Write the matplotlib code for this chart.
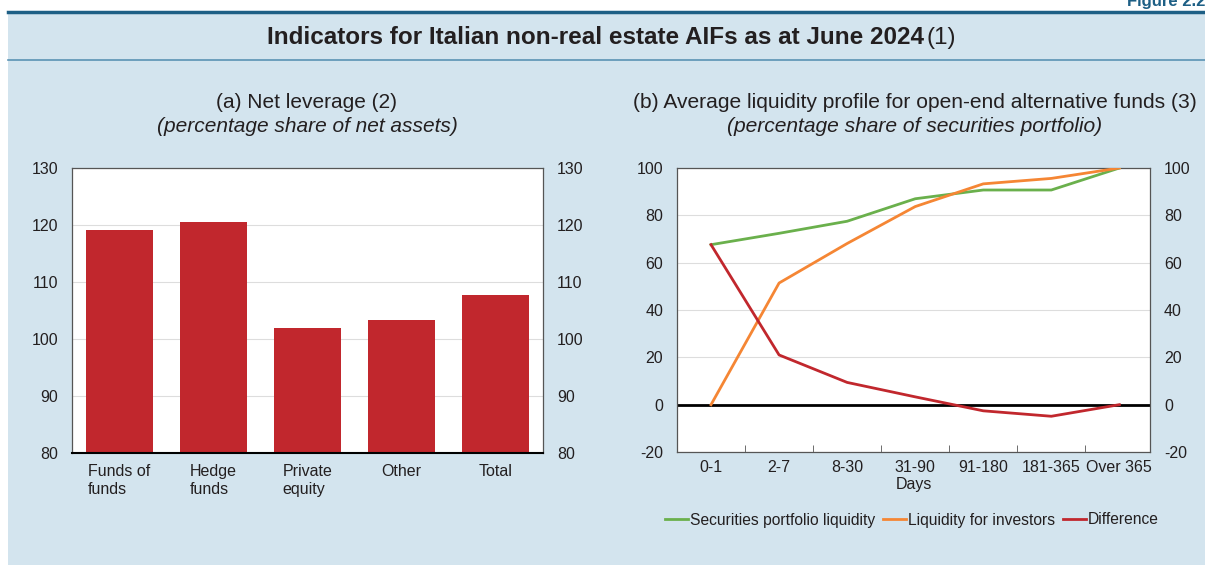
import matplotlib.pyplot as plt
from matplotlib.lines import Line2D

plt.rcParams['font.family'] = ['Liberation Sans', 'DejaVu Sans']
plt.rcParams['axes.unicode_minus'] = False

# (a) net leverage
fund_types = ['Funds of\nfunds', 'Hedge\nfunds', 'Private\nequity', 'Other', 'Total']
net_leverage = [119.1, 120.5, 101.9, 103.3, 107.7]

# (b) liquidity profile
buckets = ['0-1', '2-7', '8-30', '31-90', '91-180', '181-365', 'Over 365']
portfolio_liq = [67.6, 72.4, 77.5, 87.0, 90.7, 90.7, 100.0]
investor_liq = [0.0, 51.4, 68.1, 83.7, 93.3, 95.6, 100.0]
difference = [67.6, 21.0, 9.4, 3.3, -2.6, -4.9, 0.0]

panel = '#d3e4ee'
txt = '#231f20'
green = '#6ab04c'
orange = '#f58634'
red = '#c1272d'

fig = plt.figure(figsize=(12.05, 5.65), dpi=100)
fig.patch.set_facecolor('white')

# light blue panel with header rules
fig.patches.append(plt.Rectangle((8 / 1205, 0), 1, 1 - 12 / 565, transform=fig.transFigure,
                                 facecolor=panel, edgecolor='none', zorder=-10))
fig.add_artist(Line2D([8 / 1205, 1], [1 - 12 / 565] * 2, color='#1d5f85', lw=2.5))
fig.add_artist(Line2D([8 / 1205, 1], [1 - 60 / 565] * 2, color='#5a93b4', lw=1.2))
fig.text(1.0, 1 - 6 / 565, 'Figure 2.2', ha='right', va='baseline', fontsize=12,
         fontweight='bold', color='#1d5f85')

fig.text(924 / 1205, 1 - 38 / 565, 'Indicators for Italian non-real estate AIFs as at June 2024',
         ha='right', va='center', fontsize=17.5, fontweight='bold', color=txt)
fig.text(927 / 1205, 1 - 38 / 565, '(1)', ha='left', va='center', fontsize=17.5, color=txt)


def style_axes(ax):
    ax.set_facecolor('white')
    for s in ax.spines.values():
        s.set_color('#555555')
        s.set_linewidth(0.9)
    ax.tick_params(axis='y', length=0, pad=10, labelsize=11.5, colors=txt,
                   left=True, right=True, labelleft=True, labelright=True)
    ax.yaxis.grid(True, color='#dddddd', lw=0.8)
    ax.set_axisbelow(True)


# left: net leverage bars
ax1 = fig.add_axes([72 / 1205, 1 - 453 / 565, 471 / 1205, 285 / 565])
style_axes(ax1)
ax1.bar(range(len(fund_types)), net_leverage, width=0.71, color=red, zorder=2)
ax1.set_xlim(-0.5, 4.5)
ax1.set_ylim(80, 130)
ax1.set_yticks([80, 90, 100, 110, 120, 130])
ax1.set_xticks(range(len(fund_types)))
ax1.set_xticklabels(fund_types, multialignment='left', fontsize=11.5, color=txt)
ax1.tick_params(axis='x', length=0, pad=8)
ax1.spines['bottom'].set_color('black')
ax1.spines['bottom'].set_linewidth(1.5)
fig.text(307 / 1205, 1 - 102 / 565, '(a) Net leverage (2)', ha='center', va='center',
         fontsize=15, color=txt)
fig.text(307 / 1205, 1 - 126 / 565, '(percentage share of net assets)', ha='center',
         va='center', fontsize=15, style='italic', color=txt)

# right: liquidity profile lines
ax2 = fig.add_axes([677 / 1205, 1 - 452 / 565, 473 / 1205, 284 / 565])
style_axes(ax2)
x = range(len(buckets))
ax2.axhline(0, color='black', lw=2, zorder=2)
ax2.plot(x, portfolio_liq, color=green, lw=2, label='Securities portfolio liquidity', zorder=3)
ax2.plot(x, investor_liq, color=orange, lw=2, label='Liquidity for investors', zorder=3)
ax2.plot(x, difference, color=red, lw=2, label='Difference', zorder=3)
ax2.set_xlim(-0.5, 6.45)
ax2.set_ylim(-20, 100)
ax2.set_yticks(range(-20, 101, 20))
ax2.set_xticks(list(x))
ax2.set_xticklabels(buckets, fontsize=11.5, color=txt)
ax2.set_xticks([i + 0.5 for i in range(6)], minor=True)
ax2.tick_params(axis='x', which='major', length=0, pad=6)
ax2.tick_params(axis='x', which='minor', direction='in', length=5, color='#555555')
ax2.set_xlabel('Days', fontsize=11.5, color=txt, labelpad=1)
fig.text(915 / 1205, 1 - 102 / 565, '(b) Average liquidity profile for open-end alternative funds (3)',
         ha='center', va='center', fontsize=15.1, color=txt)
fig.text(915 / 1205, 1 - 126 / 565, '(percentage share of securities portfolio)', ha='center',
         va='center', fontsize=15.1, style='italic', color=txt)

fig.legend(*ax2.get_legend_handles_labels(), loc='center', bbox_to_anchor=(912 / 1205, 1 - 520 / 565),
           ncol=3, frameon=False, fontsize=11.25, handlelength=1.45, handletextpad=0.15,
           columnspacing=0.5, labelcolor=txt)

fig.savefig('out.png', dpi=100, facecolor=fig.get_facecolor())
